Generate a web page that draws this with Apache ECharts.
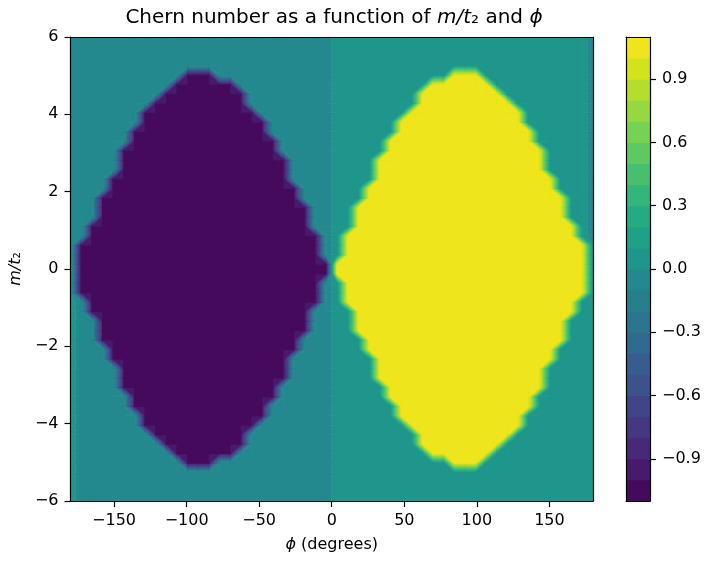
<!DOCTYPE html>
<html><head><meta charset="utf-8">
<script src="https://cdn.jsdelivr.net/npm/echarts@6/dist/echarts.min.js"></script>
<style>html,body{margin:0;padding:0;background:#fff}#c{width:704px;height:565px}</style>
</head><body><div id="c"></div>
<script>
// ---- data ----
const phiMin = -180, phiMax = 180, phiCount = 50;
const mMin = -6, mMax = 6, mCount = 50;
// half-height (grid rows above and below m = 0) of the non-zero Chern region, per phi column
const innerHalfRows = [0,3,5,8,10,13,15,17,18,19,20,21,21,21,20,20,19,17,16,14,12,9,7,4,1,
                       1,4,7,9,12,14,16,17,19,20,20,21,21,21,20,19,18,17,15,13,10,8,5,3,0];
// Chern number inside that region, per phi column
const innerChern = [-1,-1,-1,-1,-1,-1,-1,-1,-1,-1,-1,-1,-1,-1,-1,-1,-1,-1,-1,-1,-1,-1,-1,-1,-1,
                     1, 1, 1, 1, 1, 1, 1, 1, 1, 1, 1, 1, 1, 1, 1, 1, 1, 1, 1, 1, 1, 1, 1, 1, 1];
// tiny numerical residue of the background (m > 0 half and m < 0 half), per phi column
const bgUpper = [-0.01,-0.01,-0.01,-0.01,-0.01,-0.01,-0.01,-0.01,-0.01,-0.01,-0.01,-0.01,-0.01,-0.01,-0.01,-0.01,-0.01,-0.01,-0.01,-0.01,-0.01,-0.01,-0.01,-0.01,-0.01,
                  0.01, 0.01, 0.01, 0.01, 0.01, 0.01, 0.01, 0.01, 0.01, 0.01, 0.01, 0.01, 0.01, 0.01, 0.01, 0.01, 0.01, 0.01, 0.01, 0.01, 0.01, 0.01, 0.01, 0.01,-0.01];
const bgLower = [ 0.01,-0.01,-0.01,-0.01,-0.01,-0.01,-0.01,-0.01,-0.01,-0.01,-0.01,-0.01,-0.01,-0.01,-0.01,-0.01,-0.01,-0.01,-0.01,-0.01,-0.01,-0.01,-0.01,-0.01,-0.01,
                  0.01, 0.01, 0.01, 0.01, 0.01, 0.01, 0.01, 0.01, 0.01, 0.01, 0.01, 0.01, 0.01, 0.01, 0.01, 0.01, 0.01, 0.01, 0.01, 0.01, 0.01, 0.01, 0.01, 0.01, 0.01];
const levels = [-1.1,-1.0,-0.9,-0.8,-0.7,-0.6,-0.5,-0.4,-0.3,-0.2,-0.1,0,0.1,0.2,0.3,0.4,0.5,0.6,0.7,0.8,0.9,1.0,1.1];
const levelColors = ['#460a5d','#481a6c','#482878','#453781','#404588','#3b528b','#365d8d','#306a8e','#2b758e','#277f8e','#23898e',
                     '#1f968b','#1fa187','#25ab82','#32b67a','#46c06f','#5ec962','#77d153','#95d840','#b4de2c','#d2e21b','#efe51c'];
const xTicks = [-150,-100,-50,0,50,100,150];
const cbarTicks = [-0.9,-0.6,-0.3,0,0.3,0.6,0.9];

// ---- build table (grid of [phi, m, C]) ----
const dPhi = (phiMax - phiMin) / (phiCount - 1);
const dM = (mMax - mMin) / (mCount - 1);
const center = (mCount - 1) / 2;
const cells = [];
for (let j = 0; j < phiCount; j++) {
  for (let k = 0; k < mCount; k++) {
    const inside = Math.abs(k - center) < innerHalfRows[j];
    const v = inside ? innerChern[j] : (k > center ? bgUpper[j] : bgLower[j]);
    cells.push([phiMin + j * dPhi, mMin + k * dM, v]);
  }
}
const bands = [];
for (let i = 0; i < levels.length - 1; i++) bands.push([levels[i], levels[i + 1]]);

function bandIndex(v) {
  const e = 1e-9;
  for (let i = 0; i < levels.length - 1; i++) {
    const lo = levels[i], hi = levels[i + 1];
    if (hi <= 0 ? (v > lo + e && v <= hi + e) : (v >= lo - e && v < hi - e)) return i;
  }
  return v < 0 ? 0 : levels.length - 2;
}
function clipHalf(P, f) {
  const out = [];
  for (let i = 0; i < P.length; i++) {
    const a = P[i], b = P[(i + 1) % P.length];
    const fa = f(a), fb = f(b);
    if (fa >= 0) out.push(a);
    if ((fa >= 0) !== (fb >= 0)) {
      const t = fa / (fa - fb);
      out.push({ x: a.x + t * (b.x - a.x), y: a.y + t * (b.y - a.y), v: a.v + t * (b.v - a.v) });
    }
  }
  return out;
}
function polyArea(P) {
  let s = 0;
  for (let i = 0; i < P.length; i++) { const a = P[i], b = P[(i + 1) % P.length]; s += a.x * b.y - b.x * a.y; }
  return Math.abs(s) / 2;
}
// filled-contour rendering of one grid square (lower-left corner = this data item)
function renderContour(params, api) {
  const idx = params.dataIndex;
  const j = Math.floor(idx / mCount), k = idx % mCount;
  if (j >= phiCount - 1 || k >= mCount - 1) return null;
  const ids = [j * mCount + k, (j + 1) * mCount + k, (j + 1) * mCount + k + 1, j * mCount + k + 1];
  const P = ids.map(id => { const c = api.coord([cells[id][0], cells[id][1]]); return { x: c[0], y: c[1], v: cells[id][2] }; });
  const b = P.map(p => bandIndex(p.v));
  if (b.every(x => x === b[0])) {
    const x0 = Math.min(P[0].x, P[2].x), x1 = Math.max(P[0].x, P[2].x);
    const y0 = Math.min(P[0].y, P[2].y), y1 = Math.max(P[0].y, P[2].y);
    const cs = params.coordSys;
    const shape = echarts.graphic.clipRectByRect(
      { x: x0 - 0.5, y: y0 - 0.5, width: x1 - x0 + 1, height: y1 - y0 + 1 },
      { x: cs.x, y: cs.y, width: cs.width, height: cs.height });
    return shape && { type: 'rect', shape: shape, style: { fill: levelColors[b[0]] } };
  }
  const children = [];
  const vmin = Math.min(...P.map(p => p.v)), vmax = Math.max(...P.map(p => p.v));
  for (let i = 0; i < levelColors.length; i++) {
    const lo = levels[i], hi = levels[i + 1];
    if (hi < vmin || lo > vmax) continue;
    let Q = clipHalf(P, q => q.v - lo);
    Q = clipHalf(Q, q => hi - q.v);
    if (Q.length >= 3 && polyArea(Q) > 0.01) {
      const col = levelColors[i];
      children.push({ type: 'polygon', shape: { points: Q.map(p => [p.x, p.y]) },
                      style: { fill: col, stroke: col, lineWidth: 0.7 } });
    }
  }
  return { type: 'group', children: children };
}
function renderBand(params, api) {
  const p0 = api.coord([0, api.value(1)]);
  const p1 = api.coord([1, api.value(0)]);
  const col = levelColors[params.dataIndex];
  return { type: 'rect', shape: { x: p0[0], y: p0[1] - 0.5, width: p1[0] - p0[0], height: p1[1] - p0[1] + 1 },
           style: { fill: col } };
}

const minus = v => (v < 0 ? '\u2212' : '') + Math.abs(v);
const minus1 = v => (v < -1e-9 ? '\u2212' : '') + Math.abs(v).toFixed(1);
const F = 'DejaVu Sans';
const black = '#000';
const FS = 16;
const lineAx = { show: true, onZero: false, lineStyle: { color: black, width: 1.2 } };
const tickSty = { color: black, width: 1.2 };
const nameRich = { n: { fontFamily: F, fontSize: FS, color: black }, i: { fontFamily: F, fontSize: FS, fontStyle: 'italic', color: black } };

const chart = echarts.init(document.getElementById('c'), null, { renderer: 'canvas' });
chart.setOption({
  animation: false,
  backgroundColor: '#fff',
  title: {
    text: '{n|Chern number as a function of }{i|m/t}{n|\u2082 and }{i|\u03d5}',
    left: 334, textAlign: 'center', top: 8, padding: 0,
    textStyle: { rich: {
      n: { fontFamily: F, fontSize: 20, fontWeight: 'normal', color: black },
      i: { fontFamily: F, fontSize: 20, fontWeight: 'normal', fontStyle: 'italic', color: black }
    } }
  },
  grid: [
    { left: 70, top: 37, width: 523, height: 464 },
    { left: 626, top: 37, width: 24, height: 464 }
  ],
  xAxis: [
    { type: 'value', gridIndex: 0, min: phiMin, max: phiMax, position: 'bottom', z: 10,
      axisLine: lineAx, splitLine: { show: false },
      axisTick: { show: true, customValues: xTicks, length: 6, lineStyle: tickSty },
      axisLabel: { customValues: xTicks, formatter: minus, color: black, fontFamily: F, fontSize: FS, margin: 12 },
      name: '{i|\u03d5}{n| (degrees)}', nameLocation: 'middle', nameGap: 36, nameTextStyle: { rich: nameRich } },
    { type: 'value', gridIndex: 0, min: phiMin, max: phiMax, position: 'top', z: 10,
      axisLine: lineAx, axisTick: { show: false }, axisLabel: { show: false }, splitLine: { show: false } },
    { type: 'value', gridIndex: 1, min: 0, max: 1, position: 'bottom', z: 10,
      axisLine: lineAx, axisTick: { show: false }, axisLabel: { show: false }, splitLine: { show: false } },
    { type: 'value', gridIndex: 1, min: 0, max: 1, position: 'top', z: 10,
      axisLine: lineAx, axisTick: { show: false }, axisLabel: { show: false }, splitLine: { show: false } }
  ],
  yAxis: [
    { type: 'value', gridIndex: 0, min: mMin, max: mMax, interval: 2, position: 'left', z: 10,
      axisLine: lineAx, splitLine: { show: false },
      axisTick: { show: true, length: 6, lineStyle: tickSty },
      axisLabel: { formatter: minus, color: black, fontFamily: F, fontSize: FS, margin: 12 },
      name: '{i|m/t}{n|\u2082}', nameLocation: 'middle', nameGap: 44, nameRotate: 90, nameTextStyle: { rich: nameRich } },
    { type: 'value', gridIndex: 0, min: mMin, max: mMax, position: 'right', z: 10,
      axisLine: lineAx, axisTick: { show: false }, axisLabel: { show: false }, splitLine: { show: false } },
    { type: 'value', gridIndex: 1, min: levels[0], max: levels[levels.length - 1], position: 'left', z: 10,
      axisLine: lineAx, axisTick: { show: false }, axisLabel: { show: false }, splitLine: { show: false } },
    { type: 'value', gridIndex: 1, min: levels[0], max: levels[levels.length - 1], position: 'right', z: 10,
      axisLine: lineAx, splitLine: { show: false },
      axisTick: { show: true, customValues: cbarTicks, length: 6, lineStyle: tickSty },
      axisLabel: { customValues: cbarTicks, formatter: minus1, color: black, fontFamily: F, fontSize: FS, margin: 12 } }
  ],
  series: [
    { type: 'custom', name: 'Chern', xAxisIndex: 0, yAxisIndex: 0, renderItem: renderContour, data: cells,
      encode: { x: 0, y: 1 }, clip: true, silent: true },
    { type: 'custom', name: 'colorbar', xAxisIndex: 2, yAxisIndex: 3, renderItem: renderBand, data: bands,
      encode: { y: [0, 1] }, clip: true, silent: true }
  ]
});
</script></body></html>
